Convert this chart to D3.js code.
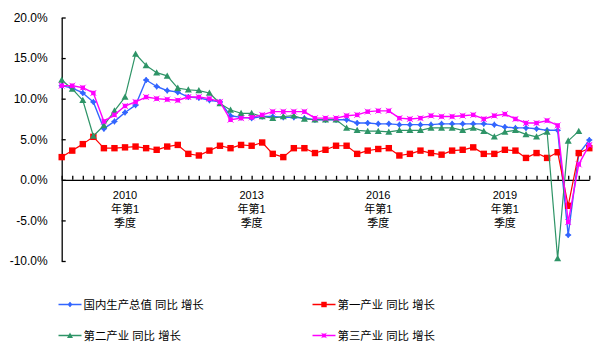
<!DOCTYPE html>
<html><head><meta charset="utf-8">
<script src="https://cdn.jsdelivr.net/npm/d3@7/dist/d3.min.js"></script>
<style>
html,body{margin:0;padding:0;background:#fff;}
svg{display:block;}
text{font-family:"Liberation Sans","Noto Sans CJK SC",sans-serif;}
</style></head>
<body>
<svg id="chart" width="601" height="359"></svg>
<script>
// ---- data ----
const startYear = 2008, startQuarter = 3;
const nCats = 51;
const categories = [];
for (let i = 0; i < nCats; i++) {
  const q = startQuarter - 1 + i;
  categories.push((startYear + Math.floor(q / 4)) + "年第" + (q % 4 + 1) + "季度");
}
const labelEvery = 12, labelOffset = 6;

const gdp = [11.6,11.3,10.7,9.6,6.3,7.2,8.3,9.2,12.3,11.5,11.0,10.8,10.2,10.1,9.8,9.6,7.9,7.7,7.6,7.8,7.8,7.7,7.7,7.6,7.4,7.4,7.4,7.4,7.0,7.0,6.9,6.9,6.8,6.8,6.8,6.8,6.9,6.9,6.9,6.9,6.9,6.8,6.5,6.4,6.4,6.3,6.1,6.1,-6.8,3.2,4.9];
const primary = [2.8,3.6,4.4,5.3,3.9,3.9,4.0,4.1,3.9,3.7,4.1,4.3,3.2,3.0,3.6,4.2,3.9,4.3,4.2,4.6,3.2,2.8,3.9,3.9,3.3,3.7,4.2,4.2,3.2,3.6,3.8,3.9,3.0,3.2,3.6,3.3,3.1,3.6,3.7,4.0,3.2,3.2,3.7,3.6,2.7,3.3,2.7,3.4,-3.2,3.3,3.9];
const secondary = [12.3,11.2,9.8,5.4,6.7,8.5,10.2,15.5,14.1,13.2,12.8,11.3,11.1,11.0,10.7,9.4,8.6,8.2,8.2,7.8,7.6,7.8,7.9,7.5,7.4,7.4,7.4,6.4,6.1,6.0,6.0,5.9,6.1,6.1,6.1,6.4,6.4,6.4,6.1,6.4,6.0,5.3,5.9,6.1,5.6,5.3,5.9,-9.7,4.8,6.0];
const tertiary = [11.6,11.6,11.35,10.7,7.2,8.0,9.1,9.6,10.2,10.0,9.9,9.8,10.2,10.2,10.0,9.6,7.4,7.6,7.7,8.0,8.4,8.4,8.4,8.4,7.6,7.6,7.6,7.9,8.0,8.4,8.5,8.5,7.6,7.5,7.6,7.9,7.8,7.8,7.9,8.0,7.5,7.9,8.1,7.5,7.0,7.0,7.3,6.7,-5.2,1.9,4.3];
const yTicks = [-10,-5,0,5,10,15,20];
const seriesNames = ["国内生产总值 同比 增长","第一产业 同比 增长","第二产业 同比 增长","第三产业 同比 增长"];

// ---- chart ----
const svg = d3.select("#chart");
const x = d3.scalePoint().domain(d3.range(nCats)).range([61.7, 589.3]);
const y = d3.scaleLinear().domain([-10, 20]).range([261, 17.5]);

const series = [
  {name: seriesNames[0], values: gdp, color: "#3366FF", marker: "diamond", width: 1.4},
  {name: seriesNames[1], values: primary, color: "#FF0000", marker: "square", width: 1.2},
  {name: seriesNames[2], values: secondary, color: "#2E9467", marker: "triangle", width: 1.2},
  {name: seriesNames[3], values: tertiary, color: "#FF00FF", marker: "smallsquare", width: 1.4}
];

// y axis
const yAxis = d3.axisLeft(y).tickValues(yTicks).tickSize(-4).tickSizeOuter(0).tickPadding(14)
  .tickFormat(d => d.toFixed(1) + "%");
const gy = svg.append("g").attr("transform", "translate(61.7,0)").call(yAxis);
gy.selectAll("path,line").attr("stroke", "#000").attr("stroke-width", 1.3);
gy.selectAll("text").attr("font-size", 12).attr("fill", "#000");

// x axis at 0
const xAxis = d3.axisBottom(x).tickSize(-4).tickSizeOuter(0).tickFormat("");
const gx = svg.append("g").attr("transform", `translate(0,${y(0)})`).call(xAxis);
gx.selectAll("path,line").attr("stroke", "#000").attr("stroke-width", 1.3);

// x labels (multi-line)
categories.forEach((c, i) => {
  if ((i - labelOffset) % labelEvery !== 0 || i < labelOffset) return;
  const m = c.match(/^(\d+)(年第\d)(季度)$/);
  const t = svg.append("text").attr("text-anchor", "middle").attr("font-size", 11).attr("fill", "#000");
  [m[1], m[2], m[3]].forEach((s, k) => {
    t.append("tspan").attr("x", x(i)).attr("y", 198.5 + k * 14).text(s);
  });
});

function drawMarker(g, type, cx, cy, color, scale) {
  scale = scale || 1;
  if (type === "diamond") {
    const s = 3 * scale;
    g.append("path").attr("d", `M${cx},${cy - s}L${cx + s},${cy}L${cx},${cy + s}L${cx - s},${cy}Z`).attr("fill", color);
    g.append("path").attr("d", `M${cx - s},${cy}H${cx + s}M${cx},${cy - s}V${cy + s}`).attr("stroke", color).attr("stroke-width", 1);
  } else if (type === "square") {
    const s = 3.2 * scale;
    g.append("rect").attr("x", cx - s).attr("y", cy - s).attr("width", 2 * s).attr("height", 2 * s).attr("fill", color);
  } else if (type === "triangle") {
    const s = 3.5 * scale;
    g.append("path").attr("d", `M${cx},${cy - s}L${cx + s},${cy + s * 0.8}L${cx - s},${cy + s * 0.8}Z`).attr("fill", color);
  } else {
    const s = 2.2 * scale;
    g.append("rect").attr("x", cx - s).attr("y", cy - s).attr("width", 2 * s).attr("height", 2 * s).attr("fill", color);
    g.append("path").attr("d", `M${cx - s - 0.8},${cy - s - 0.8}L${cx + s + 0.8},${cy + s + 0.8}M${cx + s + 0.8},${cy - s - 0.8}L${cx - s - 0.8},${cy + s + 0.8}`)
      .attr("stroke", color).attr("stroke-width", 0.8);
  }
}

const line = d3.line().x((d, i) => x(i)).y(d => y(d));
series.forEach(s => {
  const g = svg.append("g");
  g.append("path").datum(s.values).attr("d", line).attr("fill", "none")
    .attr("stroke", s.color).attr("stroke-width", s.width).attr("stroke-linejoin", "round");
  s.values.forEach((v, i) => drawMarker(g, s.marker, x(i), y(v), s.color));
});

// legend
const legendPos = [[58.5, 304.5], [312.5, 304.5], [58.5, 335.5], [312.5, 335.5]];
series.forEach((s, k) => {
  const [lx, ly] = legendPos[k];
  const g = svg.append("g");
  g.append("line").attr("x1", lx).attr("x2", lx + 23).attr("y1", ly).attr("y2", ly)
    .attr("stroke", s.color).attr("stroke-width", 1.5);
  drawMarker(g, s.marker, lx + 11.5, ly, s.color, 0.85);
  g.append("text").attr("x", lx + 25).attr("y", ly).attr("dy", "0.36em")
    .attr("font-size", 11.4).attr("fill", "#000").text(s.name);
});
</script>
</body></html>
